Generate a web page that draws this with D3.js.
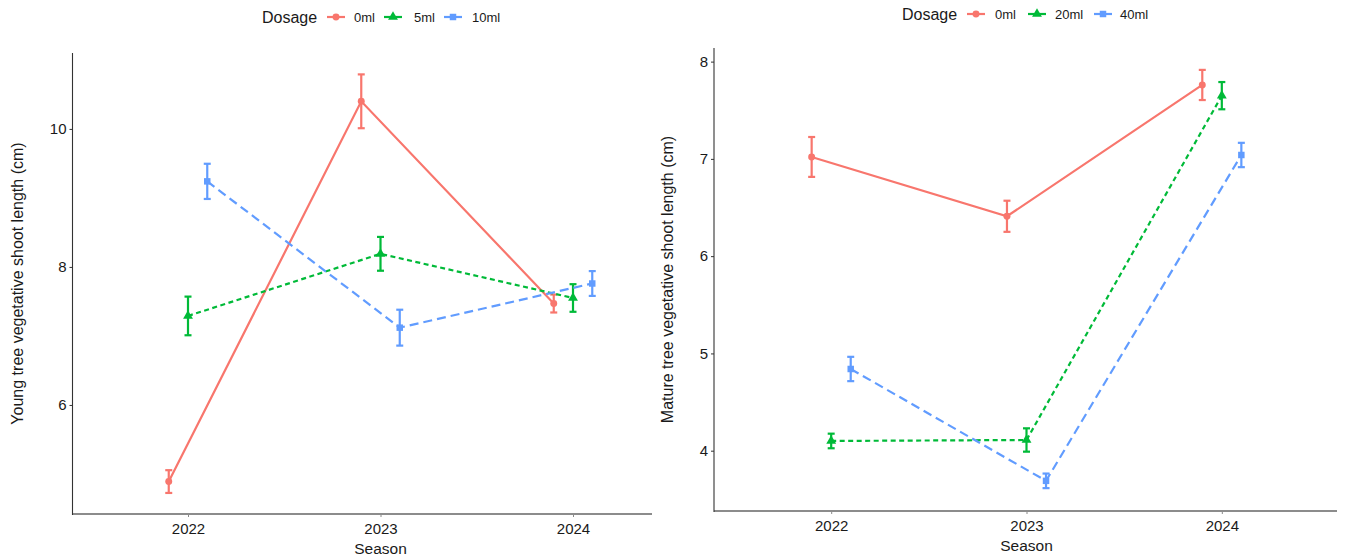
<!DOCTYPE html>
<html>
<head>
<meta charset="utf-8">
<script src="https://cdn.jsdelivr.net/npm/d3@7"></script>
<style>
  html, body { margin: 0; padding: 0; background: #fff; }
  svg { display: block; font-family: "Liberation Sans", Arial, sans-serif; }
</style>
</head>
<body>
<svg id="chart" width="1345" height="560"></svg>
<script>
// Seasons on the x axis
const seasons = ["2022", "2023", "2024"];

// Young trees: dosage groups, means and error half-widths per season
const youngDoses = ["0ml", "5ml", "10ml"];
const young0ml = [4.89, 10.40, 7.47];
const young0mlErr = [0.165, 0.39, 0.13];
const young5ml = [7.29, 8.19, 7.55];
const young5mlErr = [0.28, 0.245, 0.20];
const young10ml = [9.24, 7.12, 7.76];
const young10mlErr = [0.255, 0.26, 0.18];
const youngTicks = [6, 8, 10];

// Mature trees: dosage groups, means and error half-widths per season
const matureDoses = ["0ml", "20ml", "40ml"];
const mature0ml = [7.02, 6.41, 7.76];
const mature0mlErr = [0.205, 0.16, 0.155];
const mature20ml = [4.10, 4.11, 7.65];
const mature20mlErr = [0.075, 0.12, 0.14];
const mature40ml = [4.84, 3.69, 7.04];
const mature40mlErr = [0.125, 0.075, 0.125];
const matureTicks = [4, 5, 6, 7, 8];

const colors = ["#F8766D", "#00BA38", "#619CFF"];
const dashes = [null, "5,3.5", "9,5"];
const shapes = [d3.symbolCircle, d3.symbolTriangle, d3.symbolSquare];
const shapeSizes = [38, 42, 42];
const dodge = [-0.1, 0, 0.1];

const svg = d3.select("#chart");

function drawPanel(cfg) {
  const g = svg.append("g");
  const x = d3.scaleLinear().domain([-0.6, 2.6]).range(cfg.xRange);
  const y = d3.scaleLinear().domain(cfg.yDomain).range(cfg.yRange);
  const xLeft = cfg.xRange[0];
  const xEnd = cfg.xEnd;
  const yBottom = cfg.yRange[0];

  // x axis (grey line, small ticks)
  const xAxis = d3.axisBottom(x)
    .tickValues([0, 1, 2])
    .tickFormat(i => seasons[i])
    .tickSize(3)
    .tickSizeOuter(0);
  const gx = g.append("g").attr("transform", `translate(0,${yBottom})`).call(xAxis);
  gx.select(".domain").remove();
  gx.selectAll(".tick line").attr("stroke", "#888").attr("stroke-width", 1);
  gx.selectAll(".tick text")
    .attr("fill", "#1a1a1a").attr("font-size", 15).attr("dy", "0.9em")
    .attr("font-family", "Liberation Sans, Arial, sans-serif");
  g.append("line")
    .attr("x1", xLeft).attr("x2", xEnd)
    .attr("y1", yBottom).attr("y2", yBottom)
    .attr("stroke", "#8c8c8c").attr("stroke-width", 1.8);

  // y axis
  const yAxis = d3.axisLeft(y).tickValues(cfg.ticks).tickSize(3).tickSizeOuter(0).tickFormat(d3.format("d"));
  const gy = g.append("g").attr("transform", `translate(${xLeft},0)`).call(yAxis);
  gy.select(".domain").remove();
  gy.selectAll(".tick line").attr("stroke", "#333");
  gy.selectAll(".tick text")
    .attr("fill", "#1a1a1a").attr("font-size", 15).attr("x", -6)
    .attr("font-family", "Liberation Sans, Arial, sans-serif");
  g.append("line")
    .attr("x1", xLeft).attr("x2", xLeft)
    .attr("y1", cfg.yRange[1]).attr("y2", yBottom + 1)
    .attr("stroke", "#333").attr("stroke-width", 1.1);

  // axis titles
  g.append("text")
    .attr("x", (xLeft + cfg.xRange[1]) / 2).attr("y", cfg.seasonY)
    .attr("text-anchor", "middle").attr("font-size", 15.5).attr("fill", "#1a1a1a")
    .text("Season");
  const yMid = (cfg.yRange[0] + cfg.yRange[1]) / 2;
  g.append("text")
    .attr("transform", `translate(${cfg.yTitleX},${yMid}) rotate(-90)`)
    .attr("text-anchor", "middle").attr("font-size", 16).attr("fill", "#1a1a1a")
    .text(cfg.yTitle);

  // series
  cfg.series.forEach((s, k) => {
    const pts = s.mean.map((m, i) => ({ x: x(i + dodge[k]), m, e: s.err[i] }));
    const line = d3.line().x(d => d.x).y(d => y(d.m));
    g.append("path")
      .attr("d", line(pts))
      .attr("fill", "none")
      .attr("stroke", colors[k])
      .attr("stroke-width", 2.2)
      .attr("stroke-dasharray", dashes[k]);

    const eb = g.append("g").attr("stroke", colors[k]).attr("stroke-width", 2.2).attr("fill", "none");
    pts.forEach(p => {
      const top = y(p.m + p.e), bot = y(p.m - p.e);
      eb.append("line").attr("x1", p.x).attr("x2", p.x).attr("y1", top).attr("y2", bot);
      eb.append("line").attr("x1", p.x - 3.5).attr("x2", p.x + 3.5).attr("y1", top).attr("y2", top);
      eb.append("line").attr("x1", p.x - 3.5).attr("x2", p.x + 3.5).attr("y1", bot).attr("y2", bot);
    });

    g.selectAll(null).data(pts).enter().append("path")
      .attr("d", d3.symbol().type(shapes[k]).size(shapeSizes[k]))
      .attr("transform", d => `translate(${d.x},${y(d.m)})`)
      .attr("fill", colors[k]);
  });

  // legend
  const lg = g.append("g").attr("transform", `translate(0,${cfg.legendY})`);
  lg.append("text").attr("x", cfg.legendX).attr("y", 0).attr("dy", "0.35em")
    .attr("font-size", 16).attr("fill", "#1a1a1a").text("Dosage");
  cfg.legendKeys.forEach((kx, k) => {
    lg.append("line").attr("x1", kx).attr("x2", kx + 18).attr("y1", 0).attr("y2", 0)
      .attr("stroke", colors[k]).attr("stroke-width", 2.2);
    lg.append("path").attr("d", d3.symbol().type(shapes[k]).size(shapeSizes[k])())
      .attr("transform", `translate(${kx + 9},0)`).attr("fill", colors[k]);
    lg.append("text").attr("x", kx + cfg.labelOffset[k]).attr("y", 0).attr("dy", "0.35em")
      .attr("font-size", 13).attr("fill", "#1a1a1a").text(cfg.doses[k]);
  });
}

drawPanel({
  xRange: [72.5, 688.5],
  xEnd: 652,
  yDomain: [4.42, 11.1],
  yRange: [514, 53],
  ticks: youngTicks,
  seasonY: 554,
  yTitleX: 23,
  yTitle: "Young tree vegetative shoot length (cm)",
  series: [
    { mean: young0ml, err: young0mlErr },
    { mean: young5ml, err: young5mlErr },
    { mean: young10ml, err: young10mlErr }
  ],
  doses: youngDoses,
  legendY: 17,
  legendX: 262,
  legendKeys: [327, 384, 444],
  labelOffset: [27, 30, 28]
});

drawPanel({
  xRange: [714, 1339],
  xEnd: 1337,
  yDomain: [3.38, 8.14],
  yRange: [511, 48],
  ticks: matureTicks,
  seasonY: 551,
  yTitleX: 673,
  yTitle: "Mature tree vegetative shoot length (cm)",
  series: [
    { mean: mature0ml, err: mature0mlErr },
    { mean: mature20ml, err: mature20mlErr },
    { mean: mature40ml, err: mature40mlErr }
  ],
  doses: matureDoses,
  legendY: 14,
  legendX: 902,
  legendKeys: [967, 1028, 1094],
  labelOffset: [28, 27, 26]
});
</script>
</body>
</html>
